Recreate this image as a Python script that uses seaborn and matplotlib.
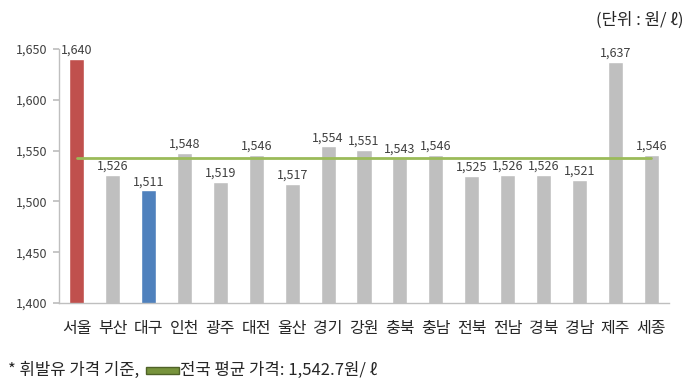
import matplotlib
matplotlib.use("Agg")
import matplotlib.pyplot as plt
import seaborn as sns
import pandas as pd
import numpy as np
from matplotlib.patches import Rectangle

regions = ["서울", "부산", "대구", "인천", "광주", "대전", "울산", "경기", "강원",
           "충북", "충남", "전북", "전남", "경북", "경남", "제주", "세종"]
prices = [1640, 1526, 1511, 1548, 1519, 1546, 1517, 1554, 1551,
          1543, 1546, 1525, 1526, 1526, 1521, 1637, 1546]
national_avg = 1542.7
y_ticks = [1400, 1450, 1500, 1550, 1600, 1650]

sns.set_theme(style="white")
plt.rcParams["font.family"] = ["Noto Sans CJK KR", "DejaVu Sans"]

GRAY = "#BFBFBF"
colors = [GRAY] * len(regions)
colors[0] = "#C0504D"
colors[2] = "#4F81BD"

df = pd.DataFrame({"region": regions, "price": prices})

fig = plt.figure(figsize=(7.0, 3.91), dpi=100)
ax = fig.add_axes([0.084, 0.225, 0.872, 0.650])

sns.barplot(data=df, x="region", y="price", hue="region", palette=colors,
            legend=False, width=0.42, ax=ax, saturation=1)
n = len(regions)
ax.set_xlim(-0.5, n - 0.5)
ax.set_ylim(1400, 1650)
ax.set_yticks(y_ticks)
ax.set_yticklabels([f"{v:,}" for v in y_ticks], fontsize=9, color="#404040")
ax.set_xlabel("")
ax.set_ylabel("")

for i, v in enumerate(prices):
    ax.text(i, v + 2, f"{v:,}", ha="center", va="bottom", fontsize=9,
            color="#404040")

ax.plot([0, n - 1], [national_avg, national_avg], color="#9BBB59", lw=2, zorder=5)

for s in ["top", "right"]:
    ax.spines[s].set_visible(False)
for s in ["left", "bottom"]:
    ax.spines[s].set_color("#BFBFBF")
    ax.spines[s].set_linewidth(1)

ax.tick_params(axis="x", which="major", length=0, pad=12, labelsize=11.5,
               labelcolor="#262626")
ax.set_xticks(np.arange(-0.5, n, 1.0), minor=True)
ax.tick_params(axis="x", which="minor", length=5, color="#BFBFBF", direction="out")
ax.tick_params(axis="y", which="major", length=4, color="#BFBFBF", direction="out",
               left=True, pad=4)

fig.text(0.976, 0.949, "(단위 : 원/ ℓ)", ha="right", va="center", fontsize=12,
         color="#262626")

fy = 0.053
fig.text(0.012, fy, "* 휘발유 가격 기준,", ha="left", va="center", fontsize=12,
         color="#262626")
fig.patches.append(Rectangle((146 / 700, fy - 3.5 / 391), 33 / 700, 7 / 391,
                             transform=fig.transFigure, facecolor="#77933C",
                             edgecolor="#4F6228", lw=1))
fig.text(180 / 700, fy, "전국 평균 가격: 1,542.7원/ ℓ", ha="left", va="center",
         fontsize=12, color="#262626")

fig.savefig("out.png", dpi=100)
